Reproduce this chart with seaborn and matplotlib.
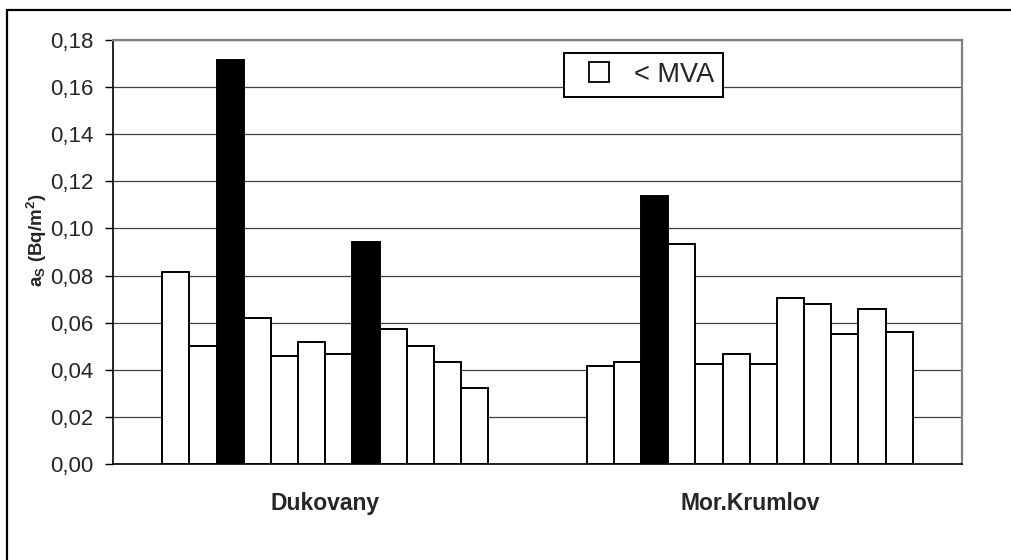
import matplotlib
matplotlib.use("Agg")
import matplotlib.pyplot as plt
from matplotlib.lines import Line2D
import seaborn as sns
import pandas as pd

# Surface activity per sampling point at two localities
sites = ["Dukovany", "Mor.Krumlov"]
dukovany = [0.0816, 0.0500, 0.1715, 0.0618, 0.0457, 0.0517, 0.0467, 0.0943, 0.0575, 0.0500, 0.0433, 0.0322]
krumlov = [0.0415, 0.0433, 0.1138, 0.0933, 0.0424, 0.0467, 0.0424, 0.0704, 0.0678, 0.0552, 0.0660, 0.0559]
# True where the value is below the minimum detectable activity (open bars)
dukovany_below = [True, True, False, True, True, True, True, False, True, True, True, True]
krumlov_below = [True, True, False, True, True, True, True, True, True, True, True, True]
y_ticks = [0.00, 0.02, 0.04, 0.06, 0.08, 0.10, 0.12, 0.14, 0.16, 0.18]
legend_label = "< MVA"
y_label = r"$\mathbf{a_S}$ (Bq/m$^\mathbf{2}$)"

rows = []
for site, vals, below in [(sites[0], dukovany, dukovany_below), (sites[1], krumlov, krumlov_below)]:
    for i, (v, b) in enumerate(zip(vals, below)):
        rows.append({"site": site, "point": i + 1, "value": v, "below": b})
df = pd.DataFrame(rows)

sns.set_theme(style="white")
plt.rcParams["font.family"] = ["Liberation Sans", "DejaVu Sans"]
plt.rcParams["mathtext.fontset"] = "custom"
plt.rcParams["mathtext.rm"] = "Liberation Sans"
plt.rcParams["mathtext.bf"] = "Liberation Sans:bold"
plt.rcParams["mathtext.it"] = "Liberation Sans:italic"

W, H = 1011, 560
fig = plt.figure(figsize=(W / 100, H / 100), dpi=100)
fig.patch.set_facecolor("white")

# outer chart frame (clipped at the right and bottom by the canvas)
fig.add_artist(Line2D([7 / W, 1.0], [1 - 10 / H, 1 - 10 / H], transform=fig.transFigure,
                      color="black", lw=1.6))
fig.add_artist(Line2D([7 / W, 7 / W], [0.0, 1 - 10 / H], transform=fig.transFigure,
                      color="black", lw=1.6))

ax = fig.add_axes([113 / W, (H - 464) / H, 849 / W, 424 / H])

sns.barplot(data=df, x="site", y="value", hue="point", order=sites,
            palette=["white"] * 12, width=0.768, edgecolor="black", linewidth=1.4,
            legend=False, errorbar=None, ax=ax, zorder=3)

# colour each bar by its MVA status
below_map = {sites[0]: dukovany_below, sites[1]: krumlov_below}
for k, container in enumerate(ax.containers):
    for j, patch in enumerate(container.patches):
        is_below = below_map[sites[j]][k]
        patch.set_facecolor("white" if is_below else "black")
        patch.set_edgecolor("black")

ax.set_xlim(-0.5, 1.5)
ax.set_ylim(0, 0.18)
ax.set_yticks(y_ticks)
ax.set_yticklabels([f"{t:.2f}".replace(".", ",") for t in y_ticks], fontsize=16)
ax.yaxis.grid(True, color="#404040", lw=0.9)
ax.set_axisbelow(True)

ax.set_xticks([0, 1])
ax.set_xticklabels(sites, fontsize=16.5, fontweight="bold")
ax.set_xticks([-0.5, 0.5, 1.5], minor=True)
ax.tick_params(axis="x", which="major", length=0, pad=20)
ax.tick_params(axis="x", which="minor", length=8, width=1, color="black", direction="out")
ax.tick_params(axis="y", length=6, width=1, color="black", direction="out", left=True, pad=8)

ax.set_xlabel("")
ax.set_ylabel("")
for side in ["left", "bottom"]:
    ax.spines[side].set_color("black")
    ax.spines[side].set_linewidth(1.2)
for side in ["top", "right"]:
    ax.spines[side].set_color("#808080")
    ax.spines[side].set_linewidth(1.6)

fig.text(37 / W, 1 - 240 / H, y_label, rotation=90, ha="center", va="center",
         fontsize=13.5, fontweight="bold")

handle = Line2D([], [], linestyle="none", marker="s", markersize=15,
                markerfacecolor="white", markeredgecolor="black", markeredgewidth=1.3)
leg = ax.legend([handle], [legend_label], loc="upper left",
                bbox_to_anchor=(0.531, 0.97), frameon=True, fancybox=False,
                fontsize=19.5, handlelength=1.96, borderpad=0.33,
                handletextpad=0.3, borderaxespad=0)
leg.get_frame().set_edgecolor("black")
leg.get_frame().set_linewidth(1.4)
leg.get_frame().set_facecolor("white")
leg.get_frame().set_alpha(1)

fig.savefig("out.png", dpi=100, facecolor="white")
